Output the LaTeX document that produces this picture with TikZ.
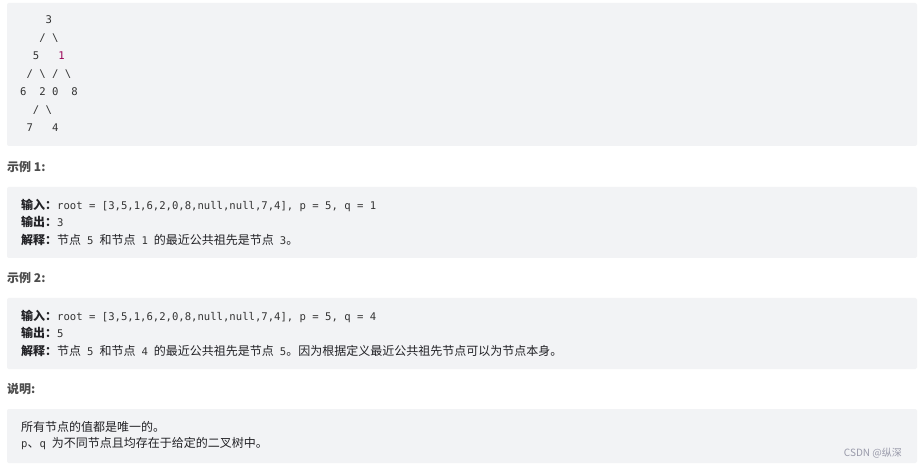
\documentclass[tikz,border=0pt]{standalone}
\usepackage{fontspec}
\setmainfont{Noto Sans CJK SC}
\newfontfamily\codefont{DejaVu Sans Mono}
\definecolor{boxgray}{HTML}{F2F3F5}
\definecolor{txt}{HTML}{222226}
\definecolor{head}{HTML}{4D4D4D}
\definecolor{codetxt}{HTML}{333333}
\definecolor{numred}{HTML}{990055}
\definecolor{mark}{HTML}{999AAA}
\newcommand{\cd}[1]{{\codefont\fontsize{10.6}{12}\selectfont\color{codetxt}#1}}
\newcommand{\icd}[1]{\hspace{6pt}\cd{#1}\hspace{6pt}}
\newcommand{\lbl}[1]{\textbf{#1：}}
\tikzset{
  panel/.style={fill=boxgray, draw=none, rounded corners=2pt},
  treeline/.style={anchor=west, inner sep=0pt, font=\codefont\fontsize{10.6}{12}\selectfont, text=codetxt},
  heading/.style={anchor=west, inner sep=0pt, font=\fontsize{12}{14}\selectfont\bfseries, text=head},
  bodyline/.style={anchor=west, inner sep=0pt, font=\fontsize{12}{14}\selectfont, text=txt},
}
\begin{document}
\begin{tikzpicture}[x=1pt, y=-1pt]
  \useasboundingbox[fill=white] (0,0) rectangle (921,470);
  % grey panels
  \fill[panel] (7,3) rectangle (917,146);
  \fill[panel] (7,187) rectangle (917,258);
  \fill[panel] (7,298) rectangle (917,369);
  \fill[panel] (7,409) rectangle (917,463);
  % tree
  \node[treeline] (t1) at (20,20) {\ \ \ \ 3};
  \node[treeline] (t2) at (20,38) {\ \ \ / \textbackslash};
  \node[treeline] (t3) at (20,56) {\ \ 5\ \ \ \textcolor{numred}{1}};
  \node[treeline] (t4) at (20,74) {\ / \textbackslash\ / \textbackslash};
  \node[treeline] (t5) at (20,92) {6\ \ 2 0\ \ 8};
  \node[treeline] (t6) at (20,110) {\ \ / \textbackslash};
  \node[treeline] (t7) at (20,128) {\ 7\ \ \ 4};
  % example 1
  \node[heading] (h1) at (7,167) {示例 1:};
  \node[bodyline] (a1) at (21,205) {\lbl{输入}\cd{root = [3,5,1,6,2,0,8,null,null,7,4], p = 5, q = 1}};
  \node[bodyline] (a2) at (21,222) {\lbl{输出}\cd{3}};
  \node[bodyline] (a3) at (21,240) {\lbl{解释}节点\icd{5}和节点\icd{1}的最近公共祖先是节点\hspace{6pt}\cd{3}。};
  % example 2
  \node[heading] (h2) at (7,278) {示例 2:};
  \node[bodyline] (b1) at (21,316) {\lbl{输入}\cd{root = [3,5,1,6,2,0,8,null,null,7,4], p = 5, q = 4}};
  \node[bodyline] (b2) at (21,333) {\lbl{输出}\cd{5}};
  \node[bodyline] (b3) at (21,351) {\lbl{解释}节点\icd{5}和节点\icd{4}的最近公共祖先是节点\hspace{6pt}\cd{5}。因为根据定义最近公共祖先节点可以为节点本身。};
  % notes
  \node[heading] (h3) at (7,389) {说明:};
  \node[bodyline] (c1) at (21,427) {所有节点的值都是唯一的。};
  \node[bodyline] (c2) at (21,444) {\cd{p}、\cd{q}\hspace{6pt}为不同节点且均存在于给定的二叉树中。};
  \node[anchor=east, inner sep=0pt, font=\fontsize{10}{12}\selectfont, text=mark] (wm) at (902,453) {CSDN @纵深};
\end{tikzpicture}
\end{document}
